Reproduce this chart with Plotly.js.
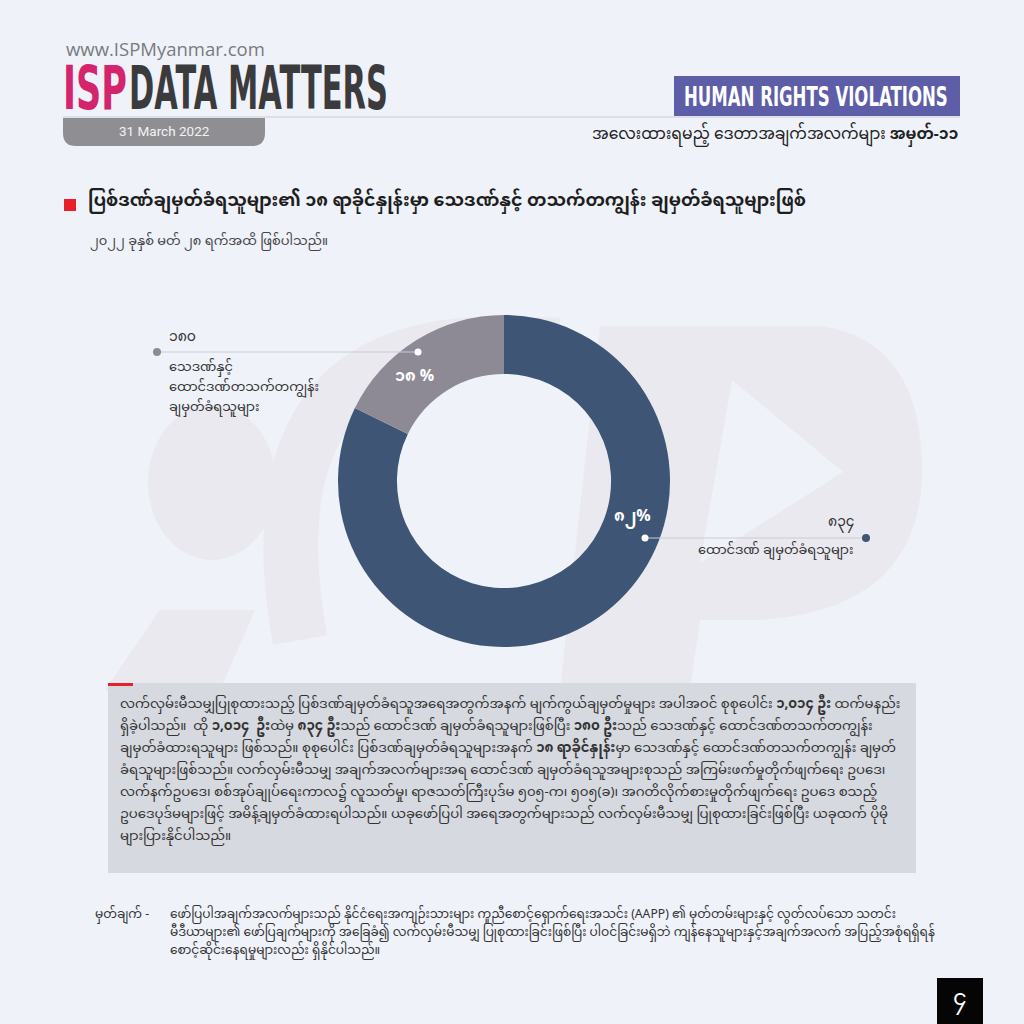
<!DOCTYPE html>
<html>
<head>
<meta charset="utf-8">
<script src="https://cdn.plot.ly/plotly-3.0.1.min.js"></script>
<style>html,body{margin:0;padding:0;background:#eff2f9;}#chart{width:1024px;height:1024px;}</style>
</head>
<body>
<div id="chart"></div>
<script>
// ---- data ----
const categories = ["ထောင်ဒဏ် ချမှတ်ခံရသူများ", "သေဒဏ်နှင့် ထောင်ဒဏ်တသက်တကျွန်း ချမှတ်ခံရသူများ"];
const counts = [834, 180];
const countLabels = ["၈၃၄", "၁၈၀"];
const percentLabels = ["၈၂%", "၁၈ %"];
const sliceColors = ["#3e5576", "#8e8a95"];

const MY = "'Noto Sans Myanmar', 'Padauk', 'Myanmar Text', 'Noto Sans', sans-serif";
const COND = "'DejaVu Sans', sans-serif";
const W = 1024, H = 1024;
const px = x => x / W;
const py = y => 1 - y / H;

// donut geometry (pixels)
const cx = 504, cy = 481, R = 166;

const data = [{
  type: 'pie',
  values: counts,
  labels: categories,
  marker: {colors: sliceColors, line: {width: 0}},
  hole: 0.645,
  sort: false,
  direction: 'clockwise',
  rotation: 0,
  textinfo: 'none',
  hoverinfo: 'label+value',
  showlegend: false,
  domain: {x: [px(cx - R), px(cx + R)], y: [py(cy + R), py(cy - R)]}
}];

function P(x, y) { return px(x) + ',' + py(y); }
const WM = '#ebe9f0';

const shapes = [
  // watermark "i" dot
  {type: 'circle', xref: 'paper', yref: 'paper', x0: px(148), x1: px(276), y0: py(560), y1: py(405),
   fillcolor: WM, line: {width: 0}, layer: 'below'},
  // watermark "i" stem
  {type: 'path', xref: 'paper', yref: 'paper', layer: 'below', fillcolor: WM, line: {width: 0},
   path: 'M' + P(160, 610) + ' L' + P(255, 610) + ' L' + P(220, 690) + ' L' + P(105, 690) + ' Z'},
  // watermark "S" arc
  {type: 'path', xref: 'paper', yref: 'paper', layer: 'below', fillcolor: 'rgba(0,0,0,0)', line: {width: 55, color: WM},
   path: 'M' + P(300, 640) + ' Q' + P(250, 360) + ' ' + P(470, 345) + ' L' + P(560, 345)},
  // watermark "P"
  {type: 'path', xref: 'paper', yref: 'paper', layer: 'below', fillcolor: WM, line: {width: 0},
   path: 'M' + P(600, 326) + ' L' + P(820, 326) + ' Q' + P(925, 340) + ' ' + P(922, 480) +
         ' Q' + P(915, 610) + ' ' + P(760, 620) + ' L' + P(700, 620) + ' L' + P(690, 690) + ' L' + P(560, 690) + ' Z'},
  {type: 'path', xref: 'paper', yref: 'paper', layer: 'below', fillcolor: '#eff2f9', line: {width: 0},
   path: 'M' + P(732, 380) + ' L' + P(843, 472) + ' L' + P(700, 563) + ' Z'},
  // header line
  {type: 'line', xref: 'paper', yref: 'paper', x0: px(63), x1: px(960), y0: py(117), y1: py(117),
   line: {color: '#c9ccd4', width: 1}},
  // date pill
  {type: 'path', xref: 'paper', yref: 'paper', fillcolor: '#8f8f93', line: {width: 0},
   path: 'M' + P(63, 118) + ' L' + P(265, 118) + ' L' + P(265, 133) + ' Q' + P(265, 146) + ' ' + P(252, 146) +
         ' L' + P(76, 146) + ' Q' + P(63, 146) + ' ' + P(63, 133) + ' Z'},
  // HUMAN RIGHTS box
  {type: 'rect', xref: 'paper', yref: 'paper', x0: px(674), x1: px(960), y0: py(116), y1: py(76),
   fillcolor: '#5d5ea7', line: {width: 0}},
  // red bullet
  {type: 'rect', xref: 'paper', yref: 'paper', x0: px(64), x1: px(76), y0: py(211), y1: py(199),
   fillcolor: '#e8202a', line: {width: 0}},
  // leader lines
  {type: 'line', xref: 'paper', yref: 'paper', x0: px(157), x1: px(418), y0: py(352), y1: py(352),
   line: {color: '#c9ccd4', width: 1}},
  {type: 'line', xref: 'paper', yref: 'paper', x0: px(645), x1: px(866), y0: py(538), y1: py(538),
   line: {color: '#c9ccd4', width: 1}},
  // dots
  {type: 'circle', xref: 'paper', yref: 'paper', x0: px(153), x1: px(161), y0: py(356), y1: py(348),
   fillcolor: '#8e8a95', line: {width: 0}},
  {type: 'circle', xref: 'paper', yref: 'paper', x0: px(414.5), x1: px(421.5), y0: py(355.5), y1: py(348.5),
   fillcolor: '#ffffff', line: {width: 0}},
  {type: 'circle', xref: 'paper', yref: 'paper', x0: px(641.5), x1: px(648.5), y0: py(541.5), y1: py(534.5),
   fillcolor: '#ffffff', line: {width: 0}},
  {type: 'circle', xref: 'paper', yref: 'paper', x0: px(862), x1: px(870), y0: py(542), y1: py(534),
   fillcolor: '#3e5576', line: {width: 0}},
  // text box
  {type: 'rect', xref: 'paper', yref: 'paper', x0: px(108), x1: px(916), y0: py(873), y1: py(683),
   fillcolor: '#d6d9e0', line: {width: 0}},
  {type: 'rect', xref: 'paper', yref: 'paper', x0: px(108), x1: px(133), y0: py(686), y1: py(683),
   fillcolor: '#e8202a', line: {width: 0}},
  // page number box
  {type: 'rect', xref: 'paper', yref: 'paper', x0: px(937), x1: px(983), y0: py(1024), y1: py(978),
   fillcolor: '#050505', line: {width: 0}}
];

function A(x, y, text, opts) {
  return Object.assign({xref: 'paper', yref: 'paper', x: px(x), y: py(y), text: text, showarrow: false,
    xanchor: 'left', yanchor: 'middle', align: 'left',
    font: {family: MY, size: 13, color: '#333333'}}, opts || {});
}

const paragraph = [
  "လက်လှမ်းမီသမျှပြုစုထားသည့် ပြစ်ဒဏ်ချမှတ်ခံရသူအရေအတွက်အနက် မျက်ကွယ်ချမှတ်မှုများ အပါအဝင် စုစုပေါင်း <b>၁,၀၁၄ ဦး</b> ထက်မနည်း",
  "ရှိခဲ့ပါသည်။  ထို <b>၁,၀၁၄  ဦး</b>ထဲမှ <b>" + countLabels[0] + " ဦး</b>သည် ထောင်ဒဏ် ချမှတ်ခံရသူများဖြစ်ပြီး <b>" + countLabels[1] + " ဦး</b>သည် သေဒဏ်နှင့် ထောင်ဒဏ်တသက်တကျွန်း",
  "ချမှတ်ခံထားရသူများ ဖြစ်သည်။ စုစုပေါင်း ပြစ်ဒဏ်ချမှတ်ခံရသူများအနက် <b>၁၈ ရာခိုင်နှုန်း</b>မှာ သေဒဏ်နှင့် ထောင်ဒဏ်တသက်တကျွန်း ချမှတ်",
  "ခံရသူများဖြစ်သည်။ လက်လှမ်းမီသမျှ အချက်အလက်များအရ ထောင်ဒဏ် ချမှတ်ခံရသူအများစုသည် အကြမ်းဖက်မှုတိုက်ဖျက်ရေး ဥပဒေ၊",
  "လက်နက်ဥပဒေ၊ စစ်အုပ်ချုပ်ရေးကာလ၌ လူသတ်မှု၊ ရာဇသတ်ကြီးပုဒ်မ ၅၀၅-က၊ ၅၀၅(ခ)၊ အဂတိလိုက်စားမှုတိုက်ဖျက်ရေး ဥပဒေ စသည့်",
  "ဥပဒေပုဒ်မများဖြင့် အမိန့်ချမှတ်ခံထားရပါသည်။ ယခုဖော်ပြပါ အရေအတွက်များသည် လက်လှမ်းမီသမျှ ပြုစုထားခြင်းဖြစ်ပြီး ယခုထက် ပိုမို",
  "များပြားနိုင်ပါသည်။"
];
const noteLines = [
  "ဖော်ပြပါအချက်အလက်များသည် နိုင်ငံရေးအကျဉ်းသားများ ကူညီစောင့်ရှောက်ရေးအသင်း (AAPP) ၏ မှတ်တမ်းများနှင့် လွတ်လပ်သော သတင်း",
  "မီဒီယာများ၏ ဖော်ပြချက်များကို အခြေခံ၍ လက်လှမ်းမီသမျှ ပြုစုထားခြင်းဖြစ်ပြီး ပါဝင်ခြင်းမရှိဘဲ ကျန်နေသူများနှင့်အချက်အလက် အပြည့်အစုံရရှိရန်",
  "စောင့်ဆိုင်းနေရမှုများလည်း ရှိနိုင်ပါသည်။"
];

// annotations to be horizontally condensed after render: name -> [targetLeft, targetWidth]
const condense = {};
const annotations = [];
function add(a, key, left, width) {
  if (key) condense[annotations.length] = [left, width];
  annotations.push(a);
}

add(A(64, 48, "www.ISPMyanmar.com", {font: {family: "'Open Sans', sans-serif", size: 18.5, color: '#7a7a7e'}}));
add(A(60, 88, "<b>ISP</b>", {font: {family: COND, size: 60, color: '#d3246d'}}), true, 63, 64);
add(A(130, 88, "<b>DATA MATTERS</b>", {font: {family: COND, size: 60, color: '#3b3b3d'}}), true, 129, 259);
add(A(164, 131, "31 March 2022", {xanchor: 'center', font: {family: "Roboto, sans-serif", size: 13.5, color: '#f2f2f2'}}));
add(A(690, 96, "<b>HUMAN RIGHTS VIOLATIONS</b>", {font: {family: COND, size: 27, color: '#ffffff'}}), true, 684, 264);
add(A(960, 135, "အလေးထားရမည့် ဒေတာအချက်အလက်များ <b>အမှတ်-၁၁</b>", {xanchor: 'right', font: {family: MY, size: 15.6, color: '#222222'}}));
add(A(86, 202, "<b>ပြစ်ဒဏ်ချမှတ်ခံရသူများ၏ ၁၈ ရာခိုင်နှုန်းမှာ သေဒဏ်နှင့် တသက်တကျွန်း ချမှတ်ခံရသူများဖြစ်</b>", {font: {family: MY, size: 17.5, color: '#1e1e1e'}}));
add(A(88, 242, "၂၀၂၂ ခုနှစ် မတ် ၂၈ ရက်အထိ ဖြစ်ပါသည်။", {font: {family: MY, size: 13, color: '#444444'}}));
// slice labels
add(A(167, 337, countLabels[1], {font: {family: MY, size: 14, color: '#333333'}}));
categories[1].split(' ').forEach((t, i) => add(A(167, 368 + i * 20, t, {font: {family: MY, size: 13, color: '#333333'}})));
add(A(856, 522, countLabels[0], {xanchor: 'right', font: {family: MY, size: 14, color: '#333333'}}));
add(A(856, 551, categories[0], {xanchor: 'right', font: {family: MY, size: 13, color: '#333333'}}));
add(A(414, 377, "<b>" + percentLabels[1] + "</b>", {xanchor: 'center', font: {family: MY, size: 16, color: '#ffffff'}}));
add(A(632, 517, "<b>" + percentLabels[0] + "</b>", {xanchor: 'center', font: {family: MY, size: 16, color: '#ffffff'}}));
// page number
add(A(960, 1000, "၄", {xanchor: 'center', font: {family: MY, size: 22, color: '#ffffff'}}));
// note label
add(A(93, 915, "မှတ်ချက် -", {font: {family: MY, size: 12.2, color: '#333333'}}));
paragraph.forEach((t, i) => add(A(118, 704 + i * 22, t, {font: {family: MY, size: 13.3, color: '#333333'}})));
noteLines.forEach((t, i) => add(A(168, 915 + i * 18, t, {font: {family: MY, size: 12.2, color: '#333333'}})));

const layout = {
  width: W, height: H,
  margin: {l: 0, r: 0, t: 0, b: 0},
  paper_bgcolor: '#eff2f9',
  plot_bgcolor: '#eff2f9',
  showlegend: false,
  shapes: shapes,
  annotations: annotations
};

Plotly.newPlot('chart', data, layout, {displayModeBar: false, staticPlot: true}).then(gd => {
  const groups = gd.querySelectorAll('g.annotation');
  groups.forEach(g => {
    const idx = +g.getAttribute('data-index');
    const c = condense[idx];
    if (!c) return;
    const t = g.querySelector('text');
    const r = t.getBoundingClientRect();
    const s = c[1] / r.width;
    const x0 = r.left;
    g.setAttribute('transform', 'translate(' + c[0] + ',0) scale(' + s + ',1) translate(' + (-x0) + ',0)');
  });
});
</script>
</body>
</html>
